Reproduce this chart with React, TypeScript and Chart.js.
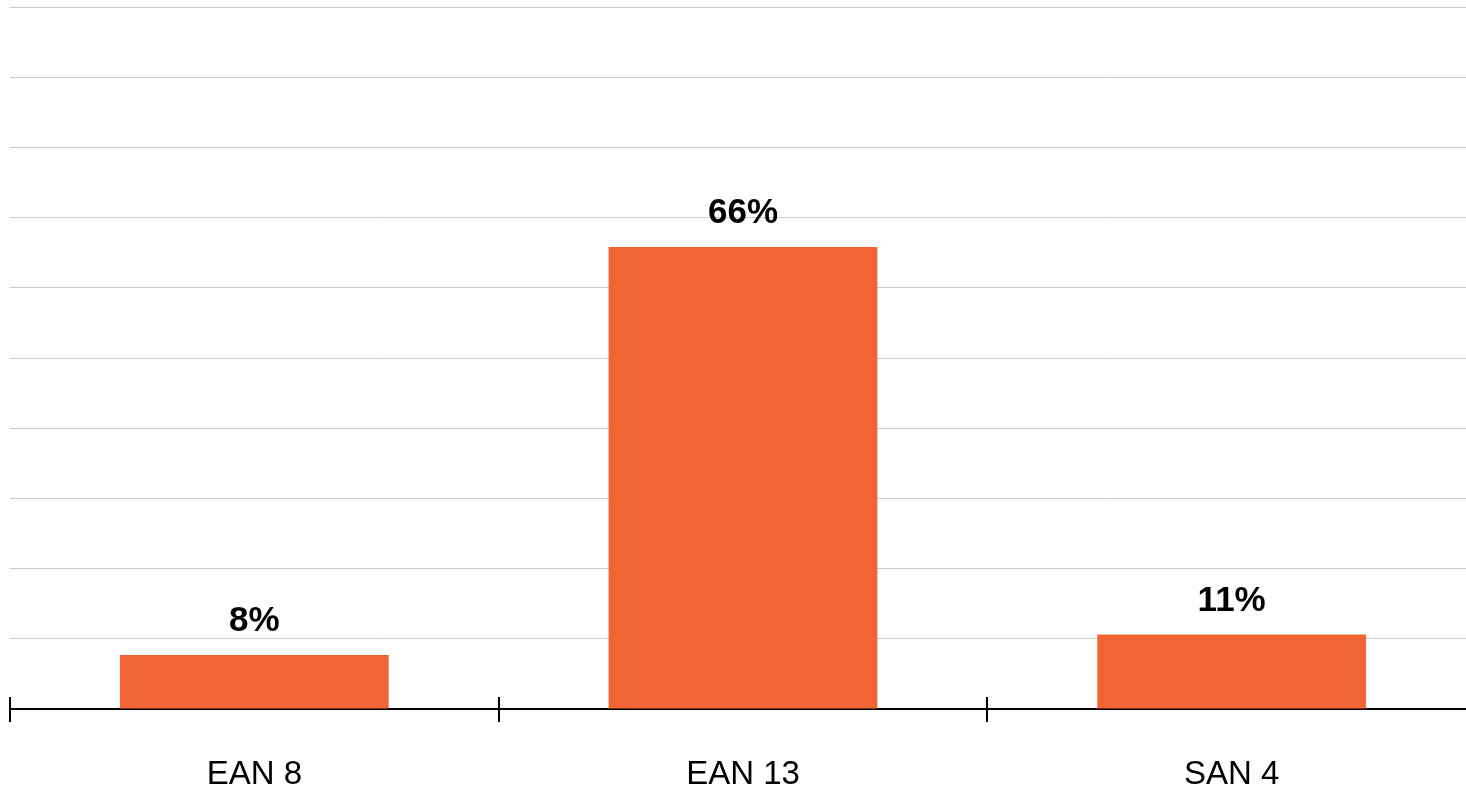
import React, { useEffect, useRef } from "react";
import { Chart, registerables } from "chart.js";

Chart.register(...registerables);

const categories = ["EAN 8", "EAN 13", "SAN 4"];
const shares = [7.7, 65.8, 10.6];
const shareLabels = ["8%", "66%", "11%"];
const yMax = 100;
const yStep = 10;

const FONT = "'Liberation Sans', Arial, Helvetica, sans-serif";
const BAR_COLOR = "#F16535";

const valueLabelPlugin = {
  id: "valueLabels",
  afterDatasetsDraw(chart: any) {
    const ctx = chart.ctx;
    const meta = chart.getDatasetMeta(0);
    ctx.save();
    ctx.font = `bold 35px ${FONT}`;
    ctx.fillStyle = "#000000";
    ctx.textAlign = "center";
    ctx.textBaseline = "alphabetic";
    meta.data.forEach((bar: any, i: number) => {
      ctx.fillText(shareLabels[i], bar.x, bar.y - 24);
    });
    ctx.restore();
  },
};

const categoryTickPlugin = {
  id: "categoryTicks",
  afterDraw(chart: any) {
    const ctx = chart.ctx;
    const xs = chart.scales.x;
    const n = categories.length;
    const step = xs.getPixelForValue(1) - xs.getPixelForValue(0);
    const y0 = chart.chartArea.bottom;
    ctx.save();
    ctx.strokeStyle = "#000000";
    ctx.lineWidth = 2;
    for (let i = 0; i <= n; i++) {
      const x = Math.round(xs.getPixelForValue(0) - step / 2 + i * step);
      ctx.beginPath();
      ctx.moveTo(x, y0 - 12);
      ctx.lineTo(x, y0 + 13);
      ctx.stroke();
    }
    ctx.restore();
  },
};

export default function App() {
  const canvasRef = useRef<HTMLCanvasElement | null>(null);

  useEffect(() => {
    if (!canvasRef.current) return;
    const chart = new Chart(canvasRef.current, {
      type: "bar",
      data: {
        labels: categories,
        datasets: [
          {
            data: shares,
            backgroundColor: BAR_COLOR,
            borderWidth: 0,
            categoryPercentage: 1,
            barPercentage: 0.55,
          },
        ],
      },
      options: {
        responsive: false,
        animation: false,
        devicePixelRatio: 1,
        layout: { padding: { left: 10, top: 7, right: 0, bottom: 0 } },
        plugins: {
          legend: { display: false },
          tooltip: { enabled: false },
        },
        scales: {
          x: {
            grid: { display: false, drawTicks: false },
            border: { display: true, color: "#000000", width: 2 },
            ticks: {
              color: "#000000",
              font: { family: FONT, size: 33 },
              padding: 46,
            },
            afterFit(scale: any) {
              scale.height = 82;
            },
          },
          y: {
            min: 0,
            max: yMax,
            ticks: { display: false, stepSize: yStep },
            grid: { color: "#cbcbcb", lineWidth: 1, drawTicks: false },
            border: { display: false },
          },
        },
      },
      plugins: [valueLabelPlugin, categoryTickPlugin],
    });
    return () => chart.destroy();
  }, []);

  return (
    <div
      style={{
        position: "absolute",
        left: 0,
        top: 0,
        width: 1466,
        height: 791,
        overflow: "hidden",
        background: "#ffffff",
      }}
    >
      <canvas ref={canvasRef} width={1476} height={791} style={{ display: "block" }} />
    </div>
  );
}
